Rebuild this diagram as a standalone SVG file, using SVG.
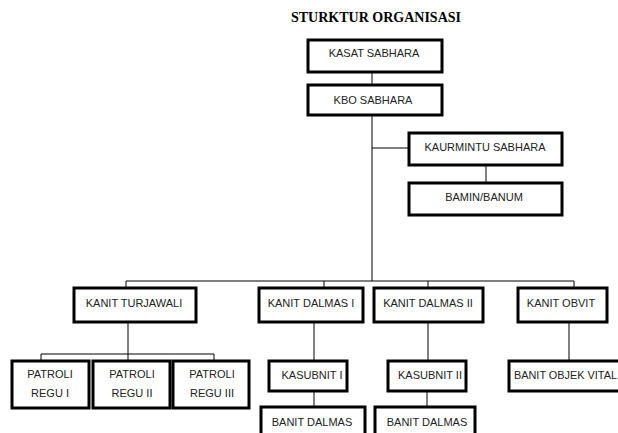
<svg xmlns="http://www.w3.org/2000/svg" width="618" height="433" viewBox="0 0 618 433">
<style>
.box{fill:#fff;stroke:#000;stroke-width:3}
.t{font-family:"Liberation Sans",Arial,sans-serif;font-size:11px;fill:#222;text-anchor:middle}
.title{font-family:"Liberation Serif","Times New Roman",serif;font-size:14px;font-weight:bold;fill:#000;text-anchor:middle}
.c{stroke:#000;stroke-width:1;fill:none}
</style>
<rect width="618" height="433" fill="#fff"/>
<text class="title" x="376" y="22">STURKTUR ORGANISASI</text>
<g id="connectors">
<path class="c" d="M372 72V85M372 115V281M372 148H409M486 165V183"/>
<path class="c" d="M126 281H574M126 281V288M324 281V288M428 281V288M574 281V288"/>
<path class="c" d="M128 322V361M41 354H214M41 354V361M214 354V361"/>
<path class="c" d="M314 322V361M314 391V407M428 322V361M427 391V407M569 322V361"/>
</g>
<g id="kasat"><rect class="box" x="308" y="40" width="134" height="32"/><text class="t" x="374" y="57">KASAT SABHARA</text></g>
<g id="kbo"><rect class="box" x="308" y="85" width="134" height="30"/><text class="t" x="373" y="104">KBO SABHARA</text></g>
<g id="kaurmintu"><rect class="box" x="409" y="133" width="153" height="32"/><text class="t" x="485" y="151">KAURMINTU SABHARA</text></g>
<g id="bamin"><rect class="box" x="409" y="183" width="153" height="32"/><text class="t" x="484" y="201">BAMIN/BANUM</text></g>
<g id="turjawali"><rect class="box" x="74" y="288" width="122" height="34"/><text class="t" x="134" y="307">KANIT TURJAWALI</text></g>
<g id="dalmas1"><rect class="box" x="259" y="288" width="104" height="34"/><text class="t" x="311" y="307">KANIT DALMAS I</text></g>
<g id="dalmas2"><rect class="box" x="374" y="288" width="109" height="34"/><text class="t" x="428" y="307">KANIT DALMAS II</text></g>
<g id="obvit"><rect class="box" x="518" y="288" width="89" height="34"/><text class="t" x="561" y="307">KANIT OBVIT</text></g>
<g id="patroli1"><rect class="box" x="12" y="361" width="77" height="47"/><text class="t" x="50" y="378">PATROLI</text><text class="t" x="50" y="397">REGU I</text></g>
<g id="patroli2"><rect class="box" x="93" y="361" width="77" height="47"/><text class="t" x="132" y="378">PATROLI</text><text class="t" x="132" y="397">REGU II</text></g>
<g id="patroli3"><rect class="box" x="173" y="361" width="76" height="47"/><text class="t" x="212" y="378">PATROLI</text><text class="t" x="212" y="397">REGU III</text></g>
<g id="kasubnit1"><rect class="box" x="269" y="361" width="78" height="30"/><text class="t" x="312" y="379">KASUBNIT I</text></g>
<g id="kasubnit2"><rect class="box" x="388" y="361" width="78" height="30"/><text class="t" x="430" y="379">KASUBNIT II</text></g>
<g id="banitobjek"><rect class="box" x="509" y="361" width="115" height="30"/><text class="t" x="514" y="379" style="text-anchor:start" textLength="103" lengthAdjust="spacingAndGlyphs">BANIT OBJEK VITAL</text></g>
<g id="banitdalmas1"><rect class="box" x="261" y="407" width="104" height="30"/><text class="t" x="312" y="426">BANIT DALMAS</text></g>
<g id="banitdalmas2"><rect class="box" x="375" y="407" width="100" height="30"/><text class="t" x="427" y="426">BANIT DALMAS</text></g>
</svg>
